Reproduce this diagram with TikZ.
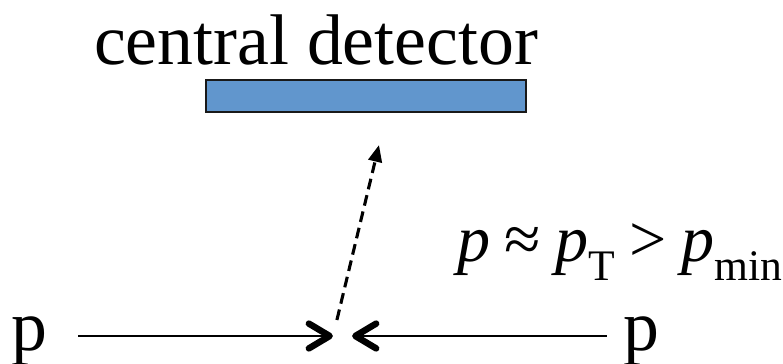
\documentclass[tikz,border=0pt]{standalone}
\usepackage{fontspec}
\setmainfont{Liberation Serif}
\usepackage{tikz}
\usetikzlibrary{arrows.meta, positioning, calc}
\definecolor{myblue}{RGB}{97,150,205}
\definecolor{mydark}{RGB}{25,25,25}
\newcommand{\lowsub}[1]{\raisebox{-0.29em}{\fontsize{31}{31}\selectfont #1}}
\newcommand{\gap}{\hspace{0.22em}}
\tikzset{
  dettitle/.style={font=\fontsize{51}{60}\selectfont, inner sep=0pt, anchor=base},
  plabel/.style={font=\fontsize{51}{60}\selectfont, inner sep=0pt, anchor=base},
  detbox/.style={rectangle, draw=mydark, fill=myblue,
    minimum width=8cm, minimum height=0.8cm, line width=1.1pt, inner sep=0pt},
  beam/.style={line width=1.3pt, color=black,
    -{Straight Barb[length=0.52cm, width=0.62cm, line width=4.6pt, round]}},
  track/.style={-{Triangle[length=0.42cm, width=0.34cm]}, line width=2.2pt,
    dash pattern=on 0.27cm off 0.15cm},
  formula/.style={font=\fontsize{47}{56}\selectfont, inner sep=0pt, anchor=base west}
}

\begin{document}
\begin{tikzpicture}[x=0.025cm, y=0.025cm]
  \useasboundingbox (0,0) rectangle (783,363);

  % Detector
  \node[dettitle] (title) at (316,298) {central detector};
  \node[detbox] (det) at (366,267) {};

  % Incoming protons
  \coordinate (vtx) at (342.5,27);
  \node[plabel] (pl) at (29,13) {p};
  \node[plabel] (pr) at (641,13) {p};
  \draw[beam] ([xshift=0.78cm]pl.east |- vtx) -- ([xshift=-0.24cm]vtx);
  \draw[beam] ([xshift=-0.4cm]pr.west |- vtx) -- ([xshift=0.24cm]vtx);

  % Outgoing track
  \coordinate (trk) at (379,218);
  \draw[track] ([xshift=-0.14cm, yshift=0.4cm]vtx) -- (trk);

  % Cut
  \node[formula] (cut) at (457,102)
    {\textit{p}\gap≈\gap\textit{p}\lowsub{T}\gap>\gap\textit{p}\lowsub{min}};
\end{tikzpicture}
\end{document}
